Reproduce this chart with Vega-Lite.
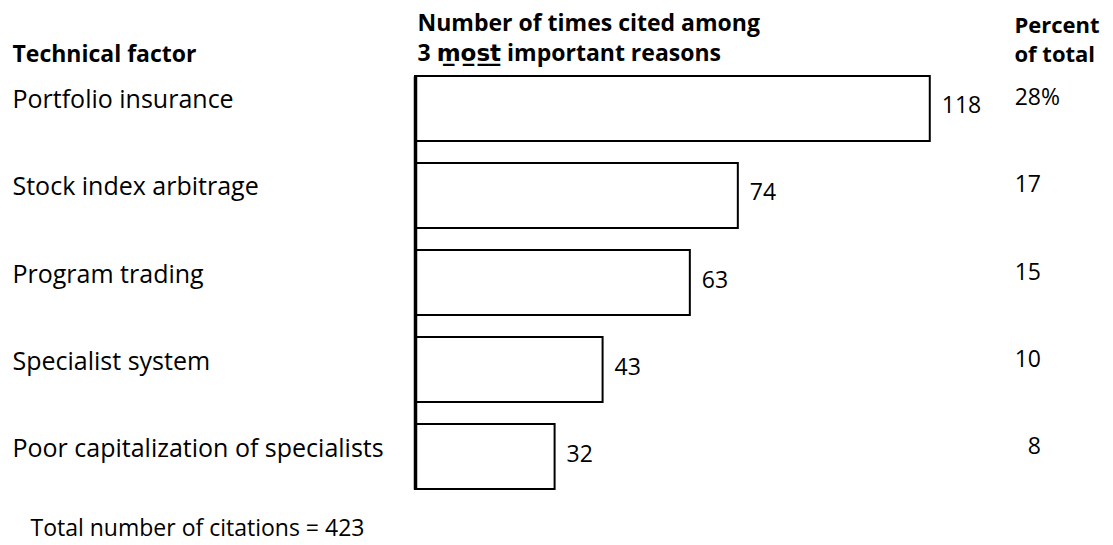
{
  "$schema": "https://vega.github.io/schema/vega-lite/v6.json",
  "autosize": "none",
  "padding": {"left": 415, "top": 76, "right": 0, "bottom": 56},
  "width": 698,
  "height": 413,
  "background": "white",
  "data": {
    "values": [
      {"factor": "Portfolio insurance", "count": 118, "pct": "28", "suffix": "%"},
      {"factor": "Stock index arbitrage", "count": 74, "pct": "17", "suffix": ""},
      {"factor": "Program trading", "count": 63, "pct": "15", "suffix": ""},
      {"factor": "Specialist system", "count": 43, "pct": "10", "suffix": ""},
      {"factor": "Poor capitalization of specialists", "count": 32, "pct": "8", "suffix": ""}
    ]
  },
  "resolve": {"axis": {"x": "independent", "y": "independent"}},
  "layer": [
    {
      "mark": {"type": "bar", "fill": "white", "stroke": "black", "strokeWidth": 2},
      "encoding": {
        "y": {
          "field": "factor", "type": "nominal", "sort": null,
          "scale": {"paddingInner": 0.253, "paddingOuter": 0},
          "axis": {
            "orient": "left", "zindex": 1, "domain": true, "domainWidth": 3.5, "domainColor": "black",
            "ticks": false, "tickSize": 0, "grid": false,
            "labelAlign": "left", "labelPadding": 403, "labelBaseline": "alphabetic",
            "labelFont": "Open Sans", "labelFontSize": 25, "labelColor": "black", "labelLimit": 0,
            "title": "Technical factor", "titleAngle": 0, "titleAlign": "left", "titleBaseline": "alphabetic",
            "titleX": -403, "titleY": -15, "titleFont": "Open Sans", "titleFontSize": 23, "titleFontWeight": "bold", "titleColor": "black"
          }
        },
        "x": {
          "field": "count", "type": "quantitative",
          "scale": {"domain": [0, 160], "nice": false},
          "axis": {
            "orient": "top", "domain": false, "labels": false, "ticks": false, "grid": false,
            "title": ["Number of times cited among", "3 m̲o̲s̲t̲ important reasons"],
            "titleAlign": "left", "titleAnchor": null, "titleBaseline": "alphabetic",
            "titleX": 2, "titleY": -46, "titleLineHeight": 30,
            "titleFont": "'Open Sans', 'DejaVu Sans'", "titleFontSize": 23, "titleFontWeight": "bold", "titleColor": "black"
          }
        }
      }
    },
    {
      "mark": {"type": "text", "align": "left", "baseline": "middle", "dx": 12, "dy": -2, "font": "Open Sans", "fontSize": 23, "fill": "black"},
      "encoding": {
        "y": {"field": "factor", "type": "nominal", "sort": null, "axis": null},
        "x": {
          "field": "count", "type": "quantitative",
          "axis": {
            "orient": "bottom", "domain": false, "labels": false, "ticks": false, "grid": false,
            "title": "Total number of citations = 423",
            "titleAlign": "left", "titleAnchor": null, "titleBaseline": "alphabetic",
            "titleX": -385, "titleY": 46,
            "titleFont": "Open Sans", "titleFontSize": 23, "titleFontWeight": "normal", "titleColor": "black"
          }
        },
        "text": {"field": "count", "type": "quantitative"}
      }
    },
    {
      "mark": {"type": "text", "align": "right", "baseline": "alphabetic", "dy": -3, "font": "Open Sans", "fontSize": 23, "fill": "black"},
      "encoding": {
        "y": {
          "field": "factor", "type": "nominal", "sort": null,
          "axis": {
            "orient": "right", "domain": false, "labels": false, "ticks": false, "grid": false,
            "title": ["Percent", "of total"], "titleAngle": 0, "titleAlign": "left", "titleBaseline": "alphabetic",
            "titleX": -99, "titleY": -44, "titleLineHeight": 29,
            "titleFont": "Open Sans", "titleFontSize": 22, "titleFontWeight": "bold", "titleColor": "black"
          }
        },
        "x": {"datum": 143.5, "type": "quantitative", "axis": null},
        "text": {"field": "pct", "type": "nominal"}
      }
    },
    {
      "mark": {"type": "text", "align": "left", "baseline": "alphabetic", "dy": -3, "font": "Open Sans", "fontSize": 23, "fill": "black"},
      "encoding": {
        "y": {"field": "factor", "type": "nominal", "sort": null, "axis": null},
        "x": {"datum": 143.5, "type": "quantitative", "axis": null},
        "text": {"field": "suffix", "type": "nominal"}
      }
    }
  ],
  "config": {
    "view": {"stroke": null},
    "font": "Open Sans"
  }
}
